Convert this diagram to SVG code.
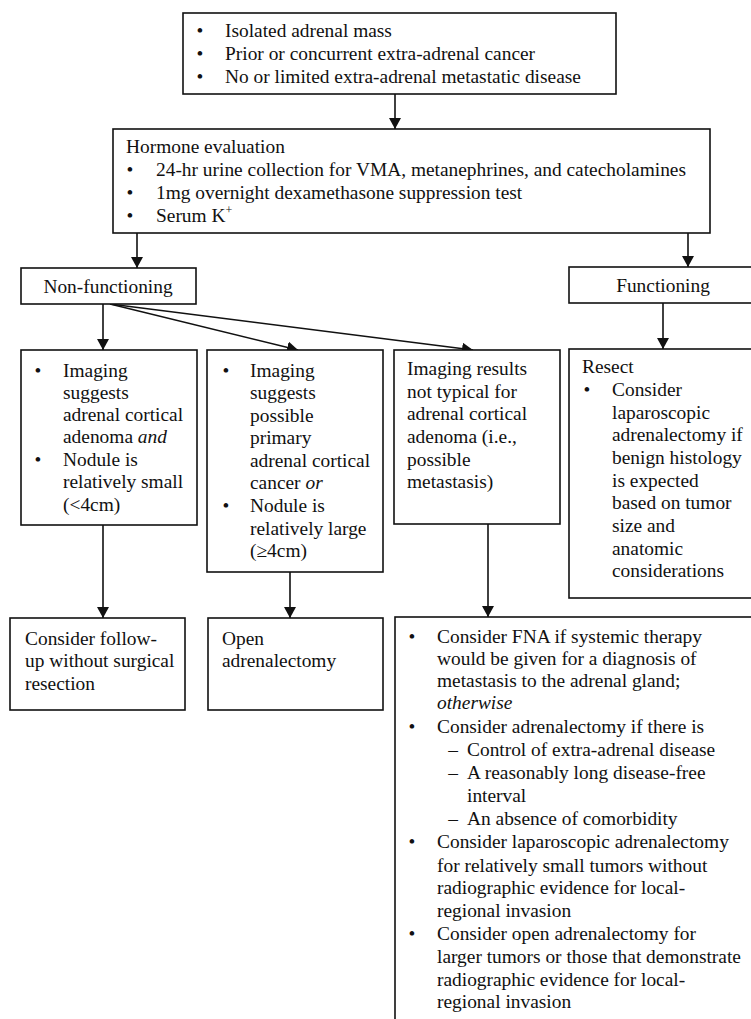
<svg xmlns="http://www.w3.org/2000/svg" width="751" height="1019" viewBox="0 0 751 1019">
<style>
  .box { fill: #fff; stroke: #111; stroke-width: 1.6; }
  .t { font-family: "Liberation Serif", "Times New Roman", serif; font-size: 19.4px; fill: #111; }
  .b { font-family: "Liberation Serif", "Times New Roman", serif; font-size: 19.4px; fill: #111; text-anchor: middle; }
  .c { text-anchor: middle; }
  .i { font-style: italic; }
  .conn { stroke: #111; stroke-width: 1.6; fill: none; marker-end: url(#ah); }
</style>
<defs>
  <marker id="ah" markerUnits="userSpaceOnUse" markerWidth="12" markerHeight="12" refX="11" refY="6" orient="auto">
    <path d="M0,0 L11,6 L0,12 z" fill="#111"/>
  </marker>
</defs>
<rect x="0" y="0" width="751" height="1019" fill="#fff"/>

<g id="connectors">
  <line class="conn" x1="395" y1="94" x2="395" y2="129"/>
  <line class="conn" x1="137" y1="233" x2="137" y2="268"/>
  <line class="conn" x1="688" y1="233" x2="688" y2="267"/>
  <line class="conn" x1="103" y1="304" x2="103" y2="350"/>
  <line class="conn" x1="110" y1="304" x2="298" y2="350"/>
  <line class="conn" x1="110" y1="304" x2="473" y2="350"/>
  <line class="conn" x1="663" y1="303" x2="663" y2="349"/>
  <line class="conn" x1="103" y1="525" x2="103" y2="618"/>
  <line class="conn" x1="290" y1="572" x2="290" y2="618"/>
  <line class="conn" x1="488" y1="524" x2="488" y2="617"/>
</g>

<g id="top">
  <rect class="box" x="183" y="13" width="433" height="81"/>
  <text class="b" x="200" y="37">•</text>
  <text class="t" x="225" y="37">Isolated adrenal mass</text>
  <text class="b" x="200" y="60">•</text>
  <text class="t" x="225" y="60">Prior or concurrent extra-adrenal cancer</text>
  <text class="b" x="200" y="83">•</text>
  <text class="t" x="225" y="83">No or limited extra-adrenal metastatic disease</text>
</g>

<g id="hormone">
  <rect class="box" x="113" y="129" width="597" height="104"/>
  <text class="t" x="126" y="153">Hormone evaluation</text>
  <text class="b" x="130" y="176">•</text>
  <text class="t" x="156" y="176">24-hr urine collection for VMA, metanephrines, and catecholamines</text>
  <text class="b" x="130" y="199">•</text>
  <text class="t" x="156" y="199">1mg overnight dexamethasone suppression test</text>
  <text class="b" x="130" y="222">•</text>
  <text class="t" x="156" y="222">Serum K<tspan font-size="12" dy="-8">+</tspan></text>
</g>

<g id="nonfunctioning">
  <rect class="box" x="21" y="268" width="175" height="36"/>
  <text class="t c" x="108" y="293">Non-functioning</text>
</g>

<g id="functioning">
  <rect class="box" x="569" y="267" width="200" height="36"/>
  <text class="t c" x="663" y="292">Functioning</text>
</g>

<g id="adenoma">
  <rect class="box" x="21" y="350" width="176" height="175"/>
  <text class="b" x="38" y="377">•</text>
  <text class="t" x="63" y="377">Imaging</text>
  <text class="t" x="63" y="399">suggests</text>
  <text class="t" x="63" y="421">adrenal cortical</text>
  <text class="t" x="63" y="443">adenoma <tspan class="i">and</tspan></text>
  <text class="b" x="38" y="466">•</text>
  <text class="t" x="63" y="466">Nodule is</text>
  <text class="t" x="63" y="488">relatively small</text>
  <text class="t" x="63" y="511">(&lt;4cm)</text>
</g>

<g id="cancer">
  <rect class="box" x="207" y="350" width="176" height="222"/>
  <text class="b" x="226" y="377">•</text>
  <text class="t" x="250" y="377">Imaging</text>
  <text class="t" x="250" y="399">suggests</text>
  <text class="t" x="250" y="422">possible</text>
  <text class="t" x="250" y="444">primary</text>
  <text class="t" x="250" y="467">adrenal cortical</text>
  <text class="t" x="250" y="489">cancer <tspan class="i">or</tspan></text>
  <text class="b" x="226" y="512">•</text>
  <text class="t" x="250" y="512">Nodule is</text>
  <text class="t" x="250" y="535">relatively large</text>
  <text class="t" x="250" y="557">(≥4cm)</text>
</g>

<g id="metastasis">
  <rect class="box" x="394" y="350" width="166" height="174"/>
  <text class="t" x="407" y="375">Imaging results</text>
  <text class="t" x="407" y="398">not typical for</text>
  <text class="t" x="407" y="420">adrenal cortical</text>
  <text class="t" x="407" y="443">adenoma (i.e.,</text>
  <text class="t" x="407" y="466">possible</text>
  <text class="t" x="407" y="488">metastasis)</text>
</g>

<g id="resect">
  <rect class="box" x="569" y="349" width="200" height="249"/>
  <text class="t" x="582" y="373">Resect</text>
  <text class="b" x="587" y="396">•</text>
  <text class="t" x="612" y="396">Consider</text>
  <text class="t" x="612" y="419">laparoscopic</text>
  <text class="t" x="612" y="441">adrenalectomy if</text>
  <text class="t" x="612" y="464">benign histology</text>
  <text class="t" x="612" y="487">is expected</text>
  <text class="t" x="612" y="509">based on tumor</text>
  <text class="t" x="612" y="532">size and</text>
  <text class="t" x="612" y="555">anatomic</text>
  <text class="t" x="612" y="577">considerations</text>
</g>

<g id="followup">
  <rect class="box" x="10" y="618" width="175" height="92"/>
  <text class="t" x="25" y="645">Consider follow-</text>
  <text class="t" x="25" y="667">up without surgical</text>
  <text class="t" x="25" y="690">resection</text>
</g>

<g id="open">
  <rect class="box" x="208" y="618" width="175" height="92"/>
  <text class="t" x="222" y="645">Open</text>
  <text class="t" x="222" y="667">adrenalectomy</text>
</g>

<g id="metastasis-management">
  <rect class="box" x="395" y="617" width="400" height="450"/>
  <text class="b" x="412" y="643">•</text>
  <text class="t" x="437" y="643">Consider FNA if systemic therapy</text>
  <text class="t" x="437" y="665">would be given for a diagnosis of</text>
  <text class="t" x="437" y="687">metastasis to the adrenal gland;</text>
  <text class="t i" x="437" y="709">otherwise</text>
  <text class="b" x="412" y="733">•</text>
  <text class="t" x="437" y="733">Consider adrenalectomy if there is</text>
  <text class="b" x="453" y="756">–</text>
  <text class="t" x="467" y="756">Control of extra-adrenal disease</text>
  <text class="b" x="453" y="779">–</text>
  <text class="t" x="467" y="779">A reasonably long disease-free</text>
  <text class="t" x="467" y="802">interval</text>
  <text class="b" x="453" y="825">–</text>
  <text class="t" x="467" y="825">An absence of comorbidity</text>
  <text class="b" x="412" y="848">•</text>
  <text class="t" x="437" y="848">Consider laparoscopic adrenalectomy</text>
  <text class="t" x="437" y="872">for relatively small tumors without</text>
  <text class="t" x="437" y="894">radiographic evidence for local-</text>
  <text class="t" x="437" y="917">regional invasion</text>
  <text class="b" x="412" y="940">•</text>
  <text class="t" x="437" y="940">Consider open adrenalectomy for</text>
  <text class="t" x="437" y="963">larger tumors or those that demonstrate</text>
  <text class="t" x="437" y="986">radiographic evidence for local-</text>
  <text class="t" x="437" y="1008">regional invasion</text>
</g>
</svg>
